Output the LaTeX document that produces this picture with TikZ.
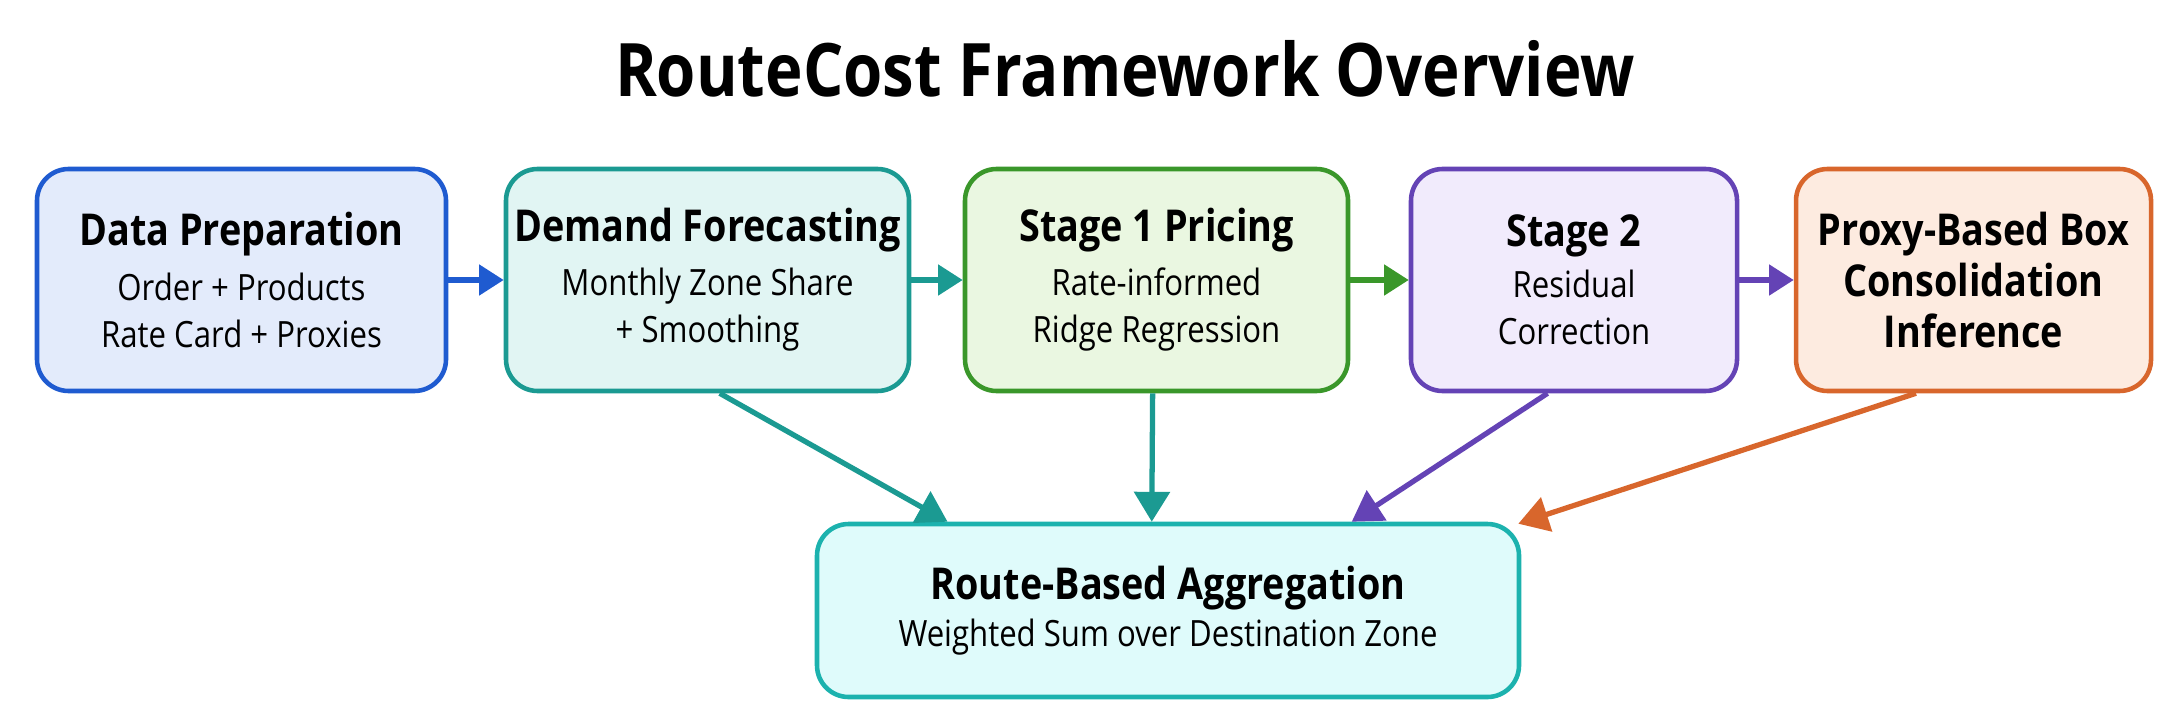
\documentclass[tikz,border=0pt]{standalone}
\usepackage{fontspec}
\setmainfont{Open Sans}[FakeStretch=0.86]
\usepackage{tikz}
\usetikzlibrary{arrows.meta}
\usetikzlibrary{calc}

\definecolor{prepLine}{HTML}{1F5BD0}
\definecolor{prepFill}{HTML}{E3EBFB}
\definecolor{demandLine}{HTML}{1B9A92}
\definecolor{demandFill}{HTML}{E1F5F3}
\definecolor{priceLine}{HTML}{3A972A}
\definecolor{priceFill}{HTML}{EAF7E1}
\definecolor{residLine}{HTML}{6443B5}
\definecolor{residFill}{HTML}{F1EBFC}
\definecolor{proxyLine}{HTML}{D8662C}
\definecolor{proxyFill}{HTML}{FDEBE0}
\definecolor{aggLine}{HTML}{1CB2AE}
\definecolor{aggFill}{HTML}{DFFBFB}

\newcommand{\stagehead}[1]{{\fontsize{12.5}{15}\selectfont\bfseries #1}}

\tikzset{
  stagebox/.style={draw, line width=1.3pt, rounded corners=9pt, align=center,
    minimum height=2.22cm, inner sep=2pt, font=\fontsize{10.3}{13.4}\selectfont},
  flow/.style={line width=1.5pt, -{Triangle[length=7pt,width=8.5pt]}},
  drop/.style={line width=1.5pt, -{Triangle[length=8.5pt,width=10pt]}},
}

\begin{document}
\begin{tikzpicture}
  \useasboundingbox (0,0) rectangle (21.72,7.24);
  \node (title) at (11.25,6.55) {\fontsize{21}{25}\selectfont\bfseries RouteCost Framework Overview};

  \node[stagebox, draw=prepLine, fill=prepFill, minimum width=4.09cm] (prep) at (2.415,4.44)
    {\stagehead{Data Preparation}\\[2pt] Order + Products\\ Rate Card + Proxies};
  \node[stagebox, draw=demandLine, fill=demandFill, minimum width=4.03cm] (demand) at (7.075,4.44)
    {\stagehead{Demand Forecasting}\\[2pt] Monthly Zone Share\\ + Smoothing};
  \node[stagebox, draw=priceLine, fill=priceFill, minimum width=3.83cm] (price) at (11.565,4.44)
    {\stagehead{Stage 1 Pricing}\\[2pt] Rate-informed\\ Ridge Regression};
  \node[stagebox, draw=residLine, fill=residFill, minimum width=3.26cm] (resid) at (15.74,4.44)
    {\stagehead{Stage 2}\\[1pt] Residual\\ Correction};
  \node[stagebox, draw=proxyLine, fill=proxyFill, minimum width=3.55cm] (proxy) at (19.735,4.44)
    {\stagehead{Proxy-Based Box}\\[1pt] \stagehead{Consolidation}\\[1pt] \stagehead{Inference}};
  \node[stagebox, draw=aggLine, fill=aggFill, minimum width=7.02cm, minimum height=1.73cm] (agg) at (11.68,1.135)
    {\stagehead{Route-Based Aggregation}\\[0pt] Weighted Sum over Destination Zone};

  \draw[flow, prepLine] (prep) -- (demand);
  \draw[flow, demandLine] (demand) -- (price);
  \draw[flow, priceLine] (price) -- (resid);
  \draw[flow, residLine] (resid) -- (proxy);

  \draw[drop, demandLine] ($(demand.south west)!0.53!(demand.south east)$) -- ($(agg.north west)!0.188!(agg.north east)$);
  \draw[drop, demandLine] ($(price.south west)!0.49!(price.south east)$) -- ($(agg.north west)!0.477!(agg.north east)$);
  \draw[drop, residLine] ($(resid.south west)!0.42!(resid.south east)$) -- ($(agg.north west)!0.76!(agg.north east)$);
  \draw[drop, proxyLine] ($(proxy.south west)!0.34!(proxy.south east)$) -- ($(agg.north east)+(-0.03,-0.02)$);
\end{tikzpicture}
\end{document}
